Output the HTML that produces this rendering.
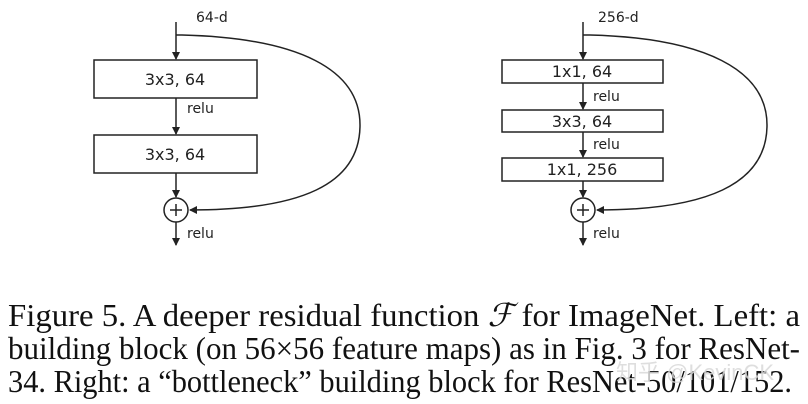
<!DOCTYPE html>
<html><head><meta charset="utf-8"><style>
html,body{margin:0;padding:0;background:#fff;}
svg{display:block}
</style></head><body>
<svg width="808" height="404" viewBox="0 0 808 404" xmlns="http://www.w3.org/2000/svg">
<defs>
<marker id="a" markerWidth="8" markerHeight="8" refX="7" refY="4" orient="auto" markerUnits="userSpaceOnUse">
<path d="M0,0 L8,4 L0,8 z" fill="#222"/></marker>
</defs>
<g stroke="#222" stroke-width="1.5" fill="none">
<line x1="176" y1="22" x2="176" y2="59" marker-end="url(#a)"/>
<rect x="94" y="60" width="163" height="38" fill="#fff"/>
<line x1="176" y1="98" x2="176" y2="134" marker-end="url(#a)"/>
<rect x="94" y="135" width="163" height="38" fill="#fff"/>
<line x1="176" y1="173" x2="176" y2="197" marker-end="url(#a)"/>
<circle cx="176" cy="210" r="12" fill="#fff"/>
<line x1="170" y1="210" x2="182" y2="210"/><line x1="176" y1="204" x2="176" y2="216"/>
<line x1="176" y1="222" x2="176" y2="245" marker-end="url(#a)"/>
<path d="M176,35 L182,35 C300,38 360,70 360,125 C360,185 300,210 190,210" marker-end="url(#a)"/>
<line x1="583" y1="22" x2="583" y2="59" marker-end="url(#a)"/>
<rect x="502" y="60" width="161" height="23" fill="#fff"/>
<line x1="583" y1="83" x2="583" y2="109" marker-end="url(#a)"/>
<rect x="502" y="110" width="161" height="22" fill="#fff"/>
<line x1="583" y1="132" x2="583" y2="157" marker-end="url(#a)"/>
<rect x="502" y="158" width="161" height="23" fill="#fff"/>
<line x1="583" y1="181" x2="583" y2="197" marker-end="url(#a)"/>
<circle cx="583" cy="210" r="12" fill="#fff"/>
<line x1="577" y1="210" x2="589" y2="210"/><line x1="583" y1="204" x2="583" y2="216"/>
<line x1="583" y1="222" x2="583" y2="245" marker-end="url(#a)"/>
<path d="M583,35 L590,35 C705,38 767,70 767,125 C767,185 705,210 597,210" marker-end="url(#a)"/>
</g>
<g fill="#222" font-family="'DejaVu Sans','Liberation Sans',sans-serif" font-size="14">
<text x="196" y="22">64-d</text>
<text x="175" y="85" text-anchor="middle" font-size="16">3x3, 64</text>
<text x="187" y="113">relu</text>
<text x="175" y="160" text-anchor="middle" font-size="16">3x3, 64</text>
<text x="187" y="238">relu</text>
<text x="598" y="22">256-d</text>
<text x="582" y="77" text-anchor="middle" font-size="16">1x1, 64</text>
<text x="593" y="101">relu</text>
<text x="582" y="127" text-anchor="middle" font-size="16">3x3, 64</text>
<text x="593" y="149">relu</text>
<text x="582" y="175" text-anchor="middle" font-size="16">1x1, 256</text>
<text x="593" y="238">relu</text>
</g>
<g fill="#111" font-family="'Liberation Serif',serif" font-size="32">
<text x="8" y="326" textLength="792" lengthAdjust="spacingAndGlyphs">Figure 5. A deeper residual function <tspan font-style="italic">ℱ</tspan> for ImageNet.  Left: a</text>
<text x="8" y="359" textLength="792" lengthAdjust="spacingAndGlyphs">building block (on 56×56 feature maps) as in Fig. 3 for ResNet-</text>
<text x="8" y="392" textLength="784" lengthAdjust="spacingAndGlyphs">34. Right: a “bottleneck” building block for ResNet-50/101/152.</text>
</g>
<text x="616" y="380" fill="#d8d8d8" fill-opacity="0.85" font-family="'Liberation Sans','Noto Sans CJK SC',sans-serif" font-size="22">知乎 @KevinCK</text>
</svg>
</body></html>
